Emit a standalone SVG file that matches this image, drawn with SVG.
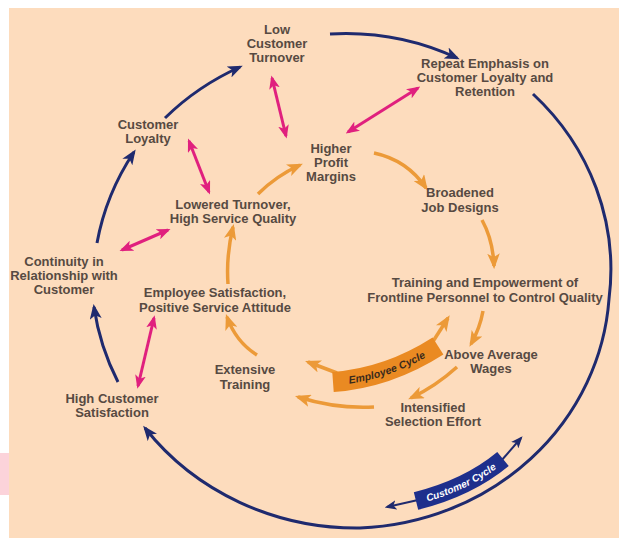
<svg xmlns="http://www.w3.org/2000/svg" width="619" height="538" viewBox="0 0 619 538">
<defs>
<style>
.t{font-family:"Liberation Sans Narrow","Liberation Sans",Arial,sans-serif;font-weight:bold;font-size:13px;fill:#574a42;text-anchor:middle}
.b{fill:none;stroke:#1f2a6e;stroke-width:3}
.p{fill:none;stroke:#e0207e;stroke-width:3}
.o{fill:none;stroke:#ec9a38;stroke-width:3.5}
</style>
<marker id="mb" viewBox="0 0 10 8" refX="8" refY="4" markerWidth="5" markerHeight="4" orient="auto" markerUnits="strokeWidth"><path d="M0,0 L10,4 L0,8 L2.5,4 z" fill="#1f2a6e"/></marker>
<marker id="mp" viewBox="0 0 10 8" refX="8" refY="4" markerWidth="4.5" markerHeight="3.6" orient="auto-start-reverse" markerUnits="strokeWidth"><path d="M0,0 L10,4 L0,8 L2.5,4 z" fill="#e0207e"/></marker>
<marker id="mo" viewBox="0 0 10 8" refX="8" refY="4" markerWidth="4.5" markerHeight="3.6" orient="auto" markerUnits="strokeWidth"><path d="M0,0 L10,4 L0,8 L2.5,4 z" fill="#ec9a38"/></marker>
<marker id="ms" viewBox="0 0 10 8" refX="8" refY="4" markerWidth="6" markerHeight="5" orient="auto" markerUnits="strokeWidth"><path d="M0,0 L10,4 L0,8 L2.5,4 z" fill="#1f2a6e"/></marker>
<path id="ecp" d="M333,382 Q388,378 438,346"/>
<path id="ccp" d="M416,501 Q468,488 503,459"/>
</defs>
<rect x="0" y="0" width="619" height="538" fill="#ffffff"/>
<rect x="9" y="8" width="610" height="530" fill="#fddcbd"/>
<rect x="0" y="453" width="9" height="42" fill="#fcd3da"/>

<g id="connectors">
<path class="b" marker-end="url(#mb)" d="M118,382 A257,247 0 0,1 94,307"/>
<path class="b" marker-end="url(#mb)" d="M97,243 A257,247 0 0,1 134,152"/>
<path class="b" marker-end="url(#mb)" d="M165,118 A257,247 0 0,1 240,67"/>
<path class="b" marker-end="url(#mb)" d="M330,34 A257,247 0 0,1 457,58"/>
<path class="b" marker-end="url(#mb)" d="M533,94 A260,246 0 0,1 609,299 A260,246 0 0,1 360,528 A263,246 0 0,1 145,428"/>

<path class="p" marker-start="url(#mp)" marker-end="url(#mp)" d="M272,78 L286,136"/>
<path class="p" marker-start="url(#mp)" marker-end="url(#mp)" d="M418,88 L348,132"/>
<path class="p" marker-start="url(#mp)" marker-end="url(#mp)" d="M189,141 L209,192"/>
<path class="p" marker-start="url(#mp)" marker-end="url(#mp)" d="M122,250 L168,230"/>
<path class="p" marker-start="url(#mp)" marker-end="url(#mp)" d="M154,318 L138,386"/>

<path class="o" marker-end="url(#mo)" d="M258,194 Q276,176 300,165"/>
<path class="o" marker-end="url(#mo)" d="M374,153 Q407,160 426,188"/>
<path class="o" marker-end="url(#mo)" d="M482,220 Q493,240 494,266"/>
<path class="o" marker-end="url(#mo)" d="M483,311 Q480,328 471,344"/>
<path class="o" marker-end="url(#mo)" d="M457,367 Q436,386 411,398"/>
<path class="o" marker-end="url(#mo)" d="M374,407 Q336,409 298,397"/>
<path class="o" marker-end="url(#mo)" d="M337,373 L308,362"/>
<path class="o" marker-end="url(#mo)" d="M432,343 L448,318"/>
<path class="o" marker-end="url(#mo)" d="M257,355 Q236,342 227,317"/>
<path class="o" marker-end="url(#mo)" d="M228,284 Q226,256 233,227"/>

<path fill="none" stroke="#1f2a6e" stroke-width="2" marker-end="url(#ms)" d="M418,500 L387,507"/>
<path fill="none" stroke="#1f2a6e" stroke-width="2" marker-end="url(#ms)" d="M501,461 L521,438"/>
</g>

<g id="employee-cycle">
<use href="#ecp" fill="none" stroke="#ea8a22" stroke-width="20"/>
<text font-family="Liberation Sans Narrow,Liberation Sans,sans-serif" font-size="10.5" font-weight="bold" font-style="italic" fill="#3a2a1c" dy="3.5"><textPath href="#ecp" startOffset="50%" text-anchor="middle">Employee Cycle</textPath></text>
</g>
<g id="customer-cycle">
<use href="#ccp" fill="none" stroke="#1e2f8c" stroke-width="18"/>
<text font-family="Liberation Sans Narrow,Liberation Sans,sans-serif" font-size="10" font-weight="bold" font-style="italic" fill="#ffffff" dy="3.5"><textPath href="#ccp" startOffset="50%" text-anchor="middle">Customer Cycle</textPath></text>
</g>

<g id="low-customer-turnover"><text class="t" x="277" y="34">Low</text><text class="t" x="277" y="48">Customer</text><text class="t" x="277" y="62">Turnover</text></g>
<g id="repeat-emphasis"><text class="t" x="485" y="68">Repeat Emphasis on</text><text class="t" x="485" y="82">Customer Loyalty and</text><text class="t" x="485" y="96">Retention</text></g>
<g id="customer-loyalty"><text class="t" x="148" y="129">Customer</text><text class="t" x="148" y="143">Loyalty</text></g>
<g id="higher-profit"><text class="t" x="331" y="153">Higher</text><text class="t" x="331" y="167">Profit</text><text class="t" x="331" y="181">Margins</text></g>
<g id="broadened-job"><text class="t" x="460" y="197">Broadened</text><text class="t" x="460" y="212">Job Designs</text></g>
<g id="lowered-turnover"><text class="t" x="233" y="209">Lowered Turnover,</text><text class="t" x="233" y="223">High Service Quality</text></g>
<g id="continuity"><text class="t" x="64" y="266">Continuity in</text><text class="t" x="64" y="280">Relationship with</text><text class="t" x="64" y="294">Customer</text></g>
<g id="training-empowerment"><text class="t" x="485" y="287">Training and Empowerment of</text><text class="t" x="485" y="302">Frontline Personnel to Control Quality</text></g>
<g id="employee-satisfaction"><text class="t" x="215" y="297">Employee Satisfaction,</text><text class="t" x="215" y="312">Positive Service Attitude</text></g>
<g id="above-average-wages"><text class="t" x="491" y="359">Above Average</text><text class="t" x="491" y="373">Wages</text></g>
<g id="extensive-training"><text class="t" x="245" y="374">Extensive</text><text class="t" x="245" y="389">Training</text></g>
<g id="high-customer-satisfaction"><text class="t" x="112" y="403">High Customer</text><text class="t" x="112" y="417">Satisfaction</text></g>
<g id="intensified-selection"><text class="t" x="433" y="412">Intensified</text><text class="t" x="433" y="426">Selection Effort</text></g>
</svg>
